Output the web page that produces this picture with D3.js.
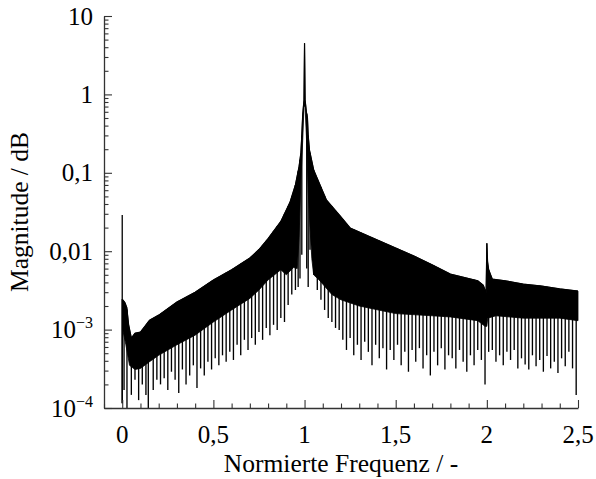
<!DOCTYPE html>
<html><head><meta charset="utf-8">
<script src="https://cdn.jsdelivr.net/npm/d3@7"></script>
<style>
body{margin:0;background:#fff}
svg text{font-family:"Liberation Serif","DejaVu Serif","Times New Roman",serif;}
</style>
</head><body><svg id="c" width="596" height="479"></svg>
<script>
// ---- data ----
const xTickValues = [0, 0.5, 1, 1.5, 2, 2.5];
const xTickLabels = ["0", "0,5", "1", "1,5", "2", "2,5"];
const yTickValues = [1e-4, 1e-3, 1e-2, 1e-1, 1, 10];
const yTickBase = ["10", "10", "0,01", "0,1", "1", "10"];
const yTickExp = ["−4", "−3", "", "", "", ""];

// upper envelope of the spectrum
const envFreq = [0.003,0.015,0.025,0.035,0.05,0.07,0.1,0.15,0.2,0.3,0.4,0.5,0.6,0.7,0.75,0.8,0.87,0.92,0.95,0.97,0.98,0.985,0.99,0.997,1.0,1.003,1.01,1.016,1.02,1.027,1.05,1.12,1.2,1.25,1.35,1.5,1.6,1.7,1.8,1.95,1.98,1.99,1.996,2.0,2.004,2.01,2.03,2.1,2.2,2.3,2.4,2.5];
const envUpper = [0.0024,0.0022,0.0019,0.00115,0.00078,0.0009,0.00093,0.00132,0.00153,0.00225,0.003,0.0043,0.0058,0.0082,0.0105,0.0145,0.024,0.042,0.07,0.12,0.18,0.3,0.55,0.85,4.5,0.85,0.6,0.5,0.3,0.195,0.109,0.045,0.0273,0.0198,0.0156,0.011,0.0087,0.0067,0.0051,0.0042,0.0037,0.0032,0.0029,0.0126,0.0073,0.0058,0.0044,0.0042,0.0038,0.0036,0.0033,0.0031];

// lower edge of the dense (solid) band
const lowFreq = [0.003,0.02,0.04,0.07,0.1,0.15,0.2,0.3,0.4,0.5,0.6,0.7,0.75,0.8,0.87,0.9,0.94,0.96,0.97,0.98,0.99,0.997,1.0,1.003,1.01,1.02,1.03,1.04,1.05,1.08,1.15,1.2,1.3,1.5,1.7,1.8,1.95,1.99,2.0,2.005,2.05,2.2,2.4,2.5];
const lowMag = [0.00099,0.00064,0.00035,0.00031,0.00032,0.00039,0.00047,0.00064,0.00085,0.00125,0.00178,0.0025,0.0032,0.0043,0.0058,0.005,0.0062,0.006,0.015,0.081,0.26,0.7,0.7,0.7,0.3,0.06,0.02,0.008,0.005,0.0043,0.0028,0.0024,0.002,0.0016,0.0015,0.00145,0.0013,0.0011,0.0011,0.0014,0.0015,0.0014,0.0014,0.0013];

// individual downward notches
const dipFreq = [0.0,0.01,0.026,0.05,0.07,0.09,0.11,0.13,0.143,0.17,0.19,0.21,0.23,0.25,0.27,0.29,0.31,0.33,0.35,0.37,0.39,0.41,0.43,0.45,0.47,0.49,0.51,0.53,0.55,0.57,0.59,0.61,0.63,0.65,0.67,0.69,0.71,0.73,0.75,0.77,0.79,0.81,0.83,0.85,0.87,0.89,0.91,0.93,0.95,0.965,0.975,0.985,1.012,1.02,1.03,1.05,1.07,1.09,1.11,1.13,1.15,1.17,1.19,1.21,1.23,1.25,1.27,1.29,1.31,1.33,1.35,1.37,1.39,1.41,1.43,1.45,1.47,1.49,1.51,1.53,1.55,1.57,1.59,1.61,1.63,1.65,1.67,1.69,1.71,1.73,1.75,1.77,1.79,1.81,1.83,1.85,1.87,1.89,1.91,1.93,1.95,1.97,1.99,2.01,2.03,2.05,2.07,2.09,2.11,2.13,2.15,2.17,2.19,2.21,2.23,2.25,2.27,2.29,2.31,2.33,2.35,2.37,2.39,2.41,2.43,2.45,2.47,2.49];
const dipMag = [0.000115,0.00017,0.00008,0.000147,0.00023,0.000126,0.0002,0.000147,0.00008,0.00017,0.00023,0.0002,0.00024,0.00017,0.00029,0.00023,0.000155,0.00031,0.0002,0.00026,0.00035,0.00018,0.00032,0.00026,0.00039,0.00031,0.00043,0.00035,0.00047,0.00039,0.00052,0.00041,0.00064,0.00047,0.00074,0.00055,0.00078,0.00064,0.00093,0.00074,0.00105,0.00085,0.00115,0.00099,0.00141,0.00125,0.00206,0.0028,0.0032,0.0035,0.0045,0.009,0.006,0.0035,0.0104,0.005,0.0032,0.0024,0.00178,0.00141,0.00125,0.00105,0.00099,0.00074,0.00055,0.00078,0.00047,0.00064,0.00041,0.0007,0.00052,0.00035,0.00064,0.00043,0.00058,0.00031,0.00055,0.00041,0.00064,0.00035,0.00052,0.00029,0.00055,0.00039,0.00058,0.00032,0.00047,0.00026,0.00052,0.00035,0.00058,0.00031,0.00047,0.00043,0.00032,0.00055,0.00039,0.00029,0.00047,0.00035,0.00055,0.00041,0.0002,0.00052,0.00055,0.00039,0.00047,0.00035,0.00052,0.00041,0.00055,0.00032,0.00043,0.00036,0.00031,0.00047,0.00034,0.00041,0.00029,0.00046,0.00032,0.00039,0.00028,0.00043,0.00034,0.00052,0.00032,0.000147];

// narrow spike at f = 0
const spikeFreq = [0];
const spikeTop = [0.029];
const spikeBottom = [0.000115];

// ---- drawing ----
const svg = d3.select("#c");
const x = d3.scaleLinear().domain([-0.1, 2.5]).range([104, 578]);
const y = d3.scaleLog().domain([1e-4, 10]).range([408, 16]);

svg.append("clipPath").attr("id", "clip").append("rect")
  .attr("x", 104).attr("y", 0).attr("width", 480).attr("height", 408);
const g = svg.append("g").attr("clip-path", "url(#clip)");

const band = envFreq.map((f, i) => [f, envUpper[i]])
  .concat(lowFreq.map((f, i) => [f, lowMag[i]]).reverse());
const line = d3.line().x(d => x(d[0])).y(d => y(d[1]));
g.append("path").attr("d", line(band) + "Z")
  .attr("fill", "#000").attr("stroke", "#000").attr("stroke-width", 0.8);
g.append("path").attr("d", line(envFreq.map((f, i) => [f, envUpper[i]])))
  .attr("fill", "none").attr("stroke", "#000").attr("stroke-width", 1.2);

const envLog = d3.scaleLinear().domain(envFreq).range(envUpper.map(Math.log10));
const topAt = f => Math.pow(10, envLog(f));
g.selectAll("line.dip").data(dipFreq).join("line").attr("class", "dip")
  .attr("x1", f => x(f)).attr("x2", f => x(f))
  .attr("y1", f => y(topAt(f))).attr("y2", (f, i) => y(dipMag[i]))
  .attr("stroke", "#000").attr("stroke-width", 1.35);
g.selectAll("line.spike").data(spikeFreq).join("line").attr("class", "spike")
  .attr("x1", f => x(f)).attr("x2", f => x(f))
  .attr("y1", (f, i) => y(spikeTop[i])).attr("y2", (f, i) => y(spikeBottom[i]))
  .attr("stroke", "#000").attr("stroke-width", 1.3);

// axes
const AX = "#333";
const yMinor = y.ticks().filter(v => !yTickValues.some(t => Math.abs(t - v) / t < 1e-6));
svg.append("g").attr("transform", "translate(104,0)")
  .call(d3.axisLeft(y).tickValues(yTickValues).tickSize(-8).tickSizeOuter(0).tickFormat(""));
svg.append("g").attr("transform", "translate(104,0)")
  .call(d3.axisLeft(y).tickValues(yMinor).tickSize(-4.5).tickSizeOuter(0).tickFormat(""))
  .call(s => s.select(".domain").remove());
const xMinor = x.ticks(26).filter(v => !xTickValues.some(t => Math.abs(t - v) < 1e-6));
svg.append("g").attr("transform", "translate(0,408)")
  .call(d3.axisBottom(x).tickValues(xTickValues).tickSize(-8).tickSizeOuter(0).tickFormat(""));
svg.append("g").attr("transform", "translate(0,408)")
  .call(d3.axisBottom(x).tickValues(xMinor).tickSize(-4.5).tickSizeOuter(0).tickFormat(""))
  .call(s => s.select(".domain").remove());
svg.selectAll(".domain").attr("stroke", AX).attr("stroke-width", 1.3);
svg.selectAll(".tick line").attr("stroke", AX).attr("stroke-width", 1.1);

// tick labels
xTickValues.forEach((v, i) => {
  svg.append("text").attr("x", x(v)).attr("y", 443).attr("text-anchor", "middle")
    .attr("font-size", 25).attr("fill", "#000").text(xTickLabels[i]);
});
yTickValues.forEach((v, i) => {
  const t = svg.append("text").attr("x", 93).attr("y", y(v) + 8.5).attr("text-anchor", "end")
    .attr("font-size", 25).attr("fill", "#000");
  t.append("tspan").text(yTickBase[i]);
  if (yTickExp[i]) t.append("tspan").attr("font-size", 16).attr("dy", -10).text(yTickExp[i]);
});

// axis titles
svg.append("text").attr("x", 341).attr("y", 472).attr("text-anchor", "middle")
  .attr("font-size", 25.5).attr("fill", "#000")
  .text("Normierte Frequenz / -");
svg.append("text").attr("transform", "translate(28,212) rotate(-90)").attr("text-anchor", "middle")
  .attr("font-size", 25.5).attr("fill", "#000")
  .text("Magnitude / dB");
</script></body></html>
